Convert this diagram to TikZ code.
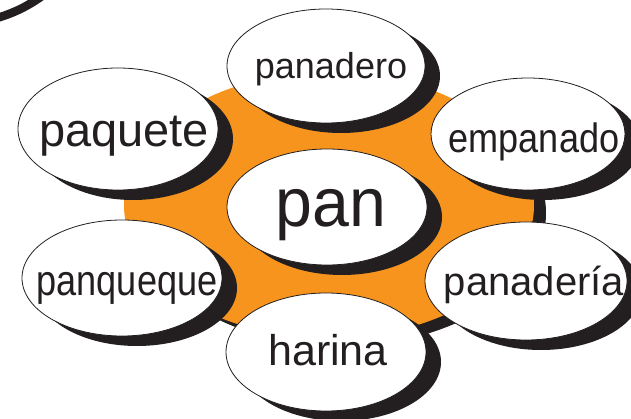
\documentclass[tikz,border=0pt]{standalone}
\usepackage{fontspec}
\setmainfont{Liberation Sans}
\usetikzlibrary{shapes.geometric}
\definecolor{panorange}{HTML}{F7941D}
\definecolor{ink}{HTML}{231F20}
\begin{document}
\begin{tikzpicture}[x=1pt,y=-1pt,
  bubble/.style={ellipse, draw=ink, line width=0.8pt, fill=white, inner sep=0pt},
  shade/.style={ellipse, fill=ink, inner sep=0pt},
  word/.style={anchor=base, inner sep=0pt, text=ink}]
\useasboundingbox (0,0) rectangle (631,419);
\clip (0,0) rectangle (631,419);
% corner arc
\draw[ink, line width=8.5pt] (-3,18) .. controls (14,13) and (28,6) .. (42,-4);
% orange backdrop
\fill[ink] (341,213) ellipse [x radius=205, y radius=133];
\fill[panorange] (329,205) ellipse [x radius=205, y radius=133];
% bubbles: shadow then bubble
\node[shade, minimum width=198pt, minimum height=114pt] (panaderoS) at (341,76) {};
\node[bubble, minimum width=198pt, minimum height=114pt] (panadero) at (326,66) {};
\node[shade, minimum width=200pt, minimum height=122pt] (paqueteS) at (133,139) {};
\node[bubble, minimum width=200pt, minimum height=122pt] (paquete) at (118,129) {};
\node[shade, minimum width=194pt, minimum height=112pt] (empanadoS) at (543,144) {};
\node[bubble, minimum width=194pt, minimum height=112pt] (empanado) at (528,134) {};
\node[shade, minimum width=200pt, minimum height=116pt] (panqueqS) at (137,288) {};
\node[bubble, minimum width=200pt, minimum height=116pt] (panqueque) at (122,278) {};
\node[shade, minimum width=202pt, minimum height=118pt] (panaderiaS) at (541,291) {};
\node[bubble, minimum width=202pt, minimum height=118pt] (panaderia) at (526,281) {};
\node[shade, minimum width=200pt, minimum height=118pt] (harinaS) at (341,362) {};
\node[bubble, minimum width=200pt, minimum height=118pt] (harina) at (326,352) {};
\node[shade, minimum width=200pt, minimum height=116pt] (panS) at (342,217) {};
\node[bubble, minimum width=200pt, minimum height=116pt] (pan) at (327,207) {};
% words
\node[word, font=\fontsize{36}{36}\selectfont] (tPanadero) at (331,79) {panadero};
\node[word, font=\fontsize{47}{47}\selectfont] (tPaquete) at (124,147) {paquete};
\node[word, font=\fontsize{41}{41}\selectfont] (tEmpanado) at (534,153) {\scalebox{0.88}[1]{empanado}};
\node[word, font=\fontsize{69}{69}\selectfont] (tPan) at (331,227) {\scalebox{0.96}[1]{pan}};
\node[word, font=\fontsize{43}{43}\selectfont] (tPanqueque) at (127,295) {\scalebox{0.84}[1]{panqueque}};
\node[word, font=\fontsize{40}{40}\selectfont] (tPanaderia) at (534,295) {panadería};
\node[word, font=\fontsize{43}{43}\selectfont] (tHarina) at (328,365) {harina};
\end{tikzpicture}
\end{document}
